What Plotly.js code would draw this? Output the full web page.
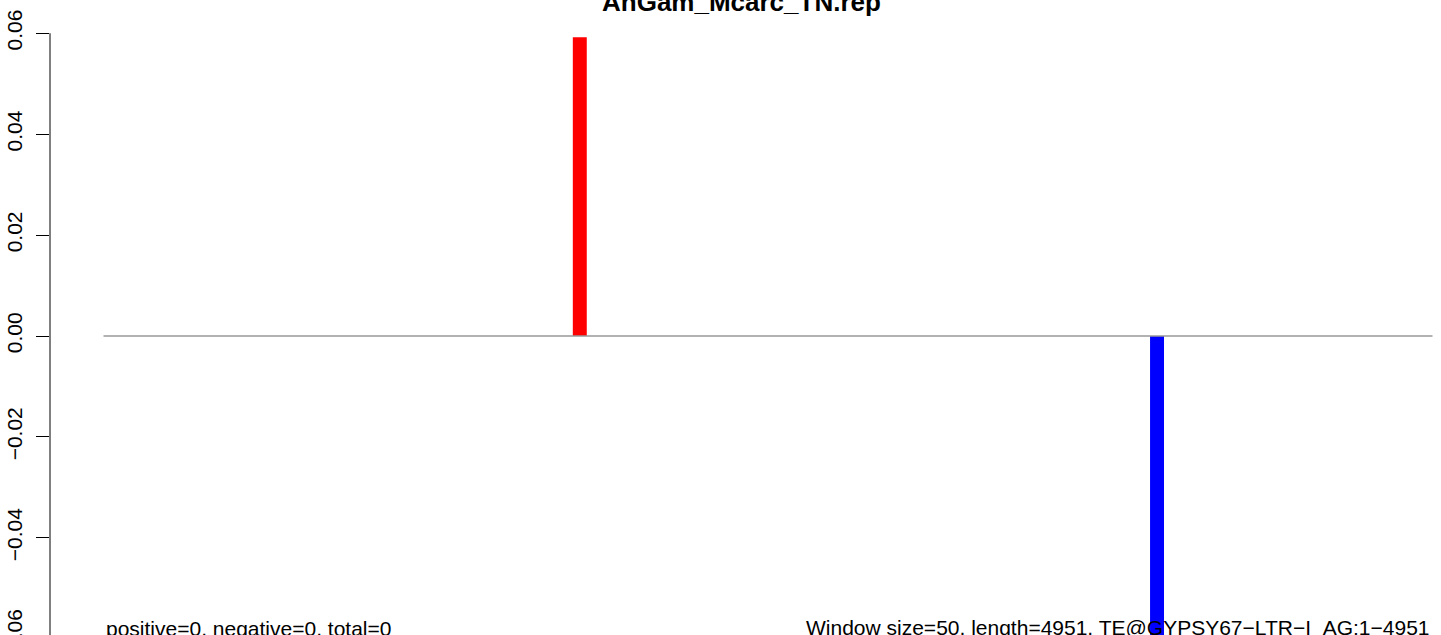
<!DOCTYPE html>
<html>
<head>
<meta charset="utf-8">
<script src="https://cdn.plot.ly/plotly-3.0.1.min.js"></script>
<style>
html,body{margin:0;padding:0;overflow:hidden;background:#fff;}
#chart{width:1441px;height:663px;}
</style>
</head>
<body>
<div id="chart"></div>
<script>
// Data (window centres in bp, signal values)
const windowCenters = [1775, 3925];
const windowValues = [0.0592, -0.064];
const barColors = ['#FF0000', '#0000FF'];
const seqStart = 1;
const seqLength = 4951;
const windowSize = 50;
const yTicks = [-0.06, -0.04, -0.02, 0.00, 0.02, 0.04, 0.06];
const yTickLabels = ['\u22120.06', '\u22120.04', '\u22120.02', '0.00', '0.02', '0.04', '0.06'];
const titleText = 'AnGam_Mcarc_TN.rep';
const leftNote = 'positive=0, negative=0, total=0';
const rightNote = 'Window size=50, length=4951, TE@GYPSY67\u2212LTR\u2212I_AG:1\u22124951';

const FONT = 'Liberation Sans, Arial, Helvetica, sans-serif';

const traces = [
  {
    type: 'bar',
    x: windowCenters,
    y: windowValues,
    width: windowSize + 2,
    marker: {color: barColors, line: {width: 0}},
    hoverinfo: 'x+y',
    showlegend: false
  },
  {
    type: 'scatter',
    mode: 'lines',
    x: [seqStart, seqLength],
    y: [0, 0],
    line: {color: '#999999', width: 1.5},
    hoverinfo: 'skip',
    showlegend: false
  }
];

const layout = {
  width: 1441,
  height: 663,
  margin: {l: 50, r: 0, t: 9, b: 0, pad: 0},
  paper_bgcolor: '#ffffff',
  plot_bgcolor: '#ffffff',
  showlegend: false,
  font: {family: FONT, size: 21, color: '#000'},
  xaxis: {
    range: [-198.3, 4982.7],
    visible: false,
    showgrid: false,
    zeroline: false
  },
  yaxis: {
    range: [-0.0648, 0.0648],
    tickmode: 'array',
    tickvals: yTicks,
    ticktext: yTickLabels,
    ticks: 'outside',
    ticklen: 13,
    tickwidth: 1,
    tickcolor: '#000',
    tickangle: -90,
    ticklabelstandoff: 6,
    tickfont: {family: FONT, size: 21, color: '#000'},
    showline: false,
    showgrid: false,
    zeroline: false
  },
  shapes: [
    {type: 'line', xref: 'paper', yref: 'y', x0: 0, x1: 0, y0: -0.06, y1: 0.06,
     line: {color: '#000', width: 1}}
  ],
  annotations: [
    {text: '<b>' + titleText + '</b>', xref: 'paper', yref: 'paper', x: 0.4969, y: 1,
     xanchor: 'center', yanchor: 'bottom', yshift: -10, showarrow: false,
     font: {family: FONT, size: 26, color: '#000'}},
    {text: leftNote, xref: 'x', yref: 'paper', x: seqStart, y: 0.0413,
     xanchor: 'left', yanchor: 'bottom', yshift: -6, showarrow: false,
     font: {family: FONT, size: 21, color: '#000'}},
    {text: rightNote, xref: 'x', yref: 'paper', x: seqLength, y: 0.0413,
     xanchor: 'right', yanchor: 'bottom', yshift: -6, showarrow: false,
     font: {family: FONT, size: 21, color: '#000'}}
  ]
};

Plotly.newPlot('chart', traces, layout, {displayModeBar: false, staticPlot: true});
</script>
</body>
</html>
